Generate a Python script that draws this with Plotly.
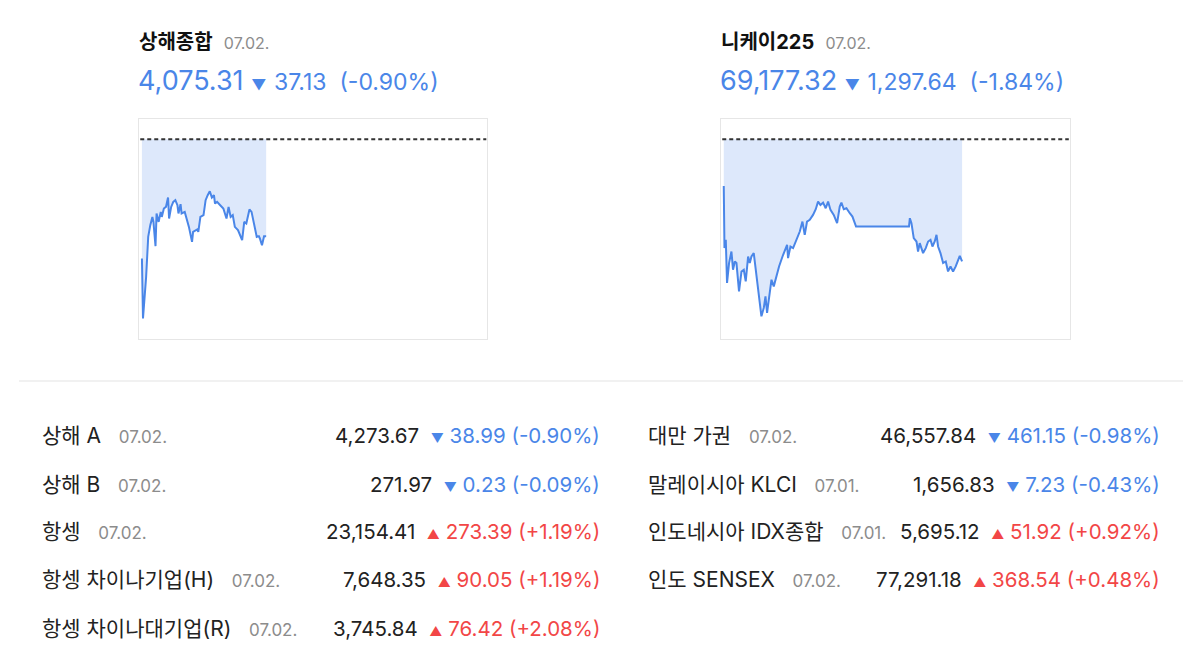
import plotly.graph_objects as go

W, H = 1200, 662
FONT = "Inter, Noto Sans CJK KR, sans-serif"
BLUE = "#4a86e8"
RED = "#f24646"
FILL = "rgba(74,134,232,0.19)"
GRAY = "#8c8c8c"
DARK = "#222222"

# ---------------- data ----------------
# 상해종합 (minutes since 09:30, lunch 11:30-13:00 included, session ends at 330)
sh_prev_close = 4112.44
sh_t = [0, 1, 4, 6, 8, 10, 11, 13, 14, 16, 18, 19, 21, 23, 25, 26, 28, 30, 32, 34,
        35, 37, 38, 41, 45, 48, 49, 53, 54, 56, 59, 61, 63, 65, 67, 69, 70, 72, 75, 78,
        81, 83, 85, 87, 89, 92, 96, 98, 100, 103, 105, 107, 110, 112, 113, 115, 117, 119]
sh_v = [4066.77, 4043.80, 4059.73, 4075.04, 4079.52, 4082.70, 4080.78, 4071.48, 4084.00, 4080.78,
        4084.61, 4082.70, 4085.91, 4086.52, 4090.12, 4082.08, 4086.52, 4088.44, 4089.09, 4087.18,
        4084.00, 4087.56, 4084.00, 4084.61, 4078.87, 4073.13, 4076.95, 4077.87, 4076.95, 4082.70,
        4083.35, 4089.09, 4091.00, 4092.53, 4090.12, 4091.00, 4087.83, 4088.44, 4087.18, 4085.91,
        4082.08, 4086.52, 4082.70, 4083.35, 4078.87, 4077.61, 4073.78, 4080.78, 4080.17, 4085.53,
        4084.61, 4080.17, 4075.04, 4075.31, 4074.43, 4071.86, 4075.31, 4075.31]

# 니케이225 (minutes since 09:00, lunch 11:30-12:30 flat, session ends at 390)
nk_prev_close = 70474.96
nk_t = [0, 0.8, 2.3, 3.7, 6.0, 8.7, 10.5, 12.5, 14.4, 17.3, 20.1, 22.7, 24.9, 27.6, 29.5,
        31.4, 34.0, 37.1, 40.0, 42.7, 45.4, 47.3, 49.1, 51.4, 54.1, 56.7, 59.0, 62.7, 66.6,
        69.2, 71.8, 72.9, 75.6, 78.6, 81.6, 84.2, 86.2, 89.2, 91.8, 94.4, 97.5, 101.2, 104.3,
        106.9, 109.6, 112.6, 115.6, 118.3, 121.0, 124.7, 128.5, 131.5, 133.4, 136.1, 139.1,
        142.9, 145.9, 150, 210, 211, 212.8, 215.4, 218.5, 220.3, 222.2, 226.0, 229.0, 231.7,
        234.4, 236.6, 239.2, 241.2, 243.0, 245.7, 248.7, 251.7, 254.3, 257.1, 260.0, 263.0,
        265.6, 267.6, 270.2]
nk_v = [69977.9, 69319.0, 69406.8, 68948.9, 69160.4, 69283.1, 69089.5, 69177.3, 69160.4, 68860.0,
        69071.6, 69089.5, 68965.8, 69230.2, 69160.4, 69230.2, 69266.2, 69018.7, 68807.2, 68595.6,
        68684.5, 68807.2, 68631.6, 68772.3, 68983.8, 68912.9, 69001.8, 69124.4, 69230.2, 69283.1,
        69353.9, 69213.3, 69336.0, 69319.0, 69388.8, 69459.7, 69494.6, 69600.4, 69459.7, 69600.4,
        69618.3, 69671.2, 69731.5, 69811.9, 69777.0, 69801.3, 69742.1, 69811.9, 69724.1, 69671.2,
        69583.4, 69759.0, 69801.3, 69731.5, 69742.1, 69689.2, 69653.2, 69547.5, 69547.5, 69636.3,
        69583.4, 69424.8, 69388.8, 69283.1, 69371.9, 69266.2, 69319.0, 69388.8, 69406.8, 69336.0,
        69388.8, 69459.7, 69336.0, 69266.2, 69160.4, 69177.3, 69071.6, 69124.4, 69071.6, 69124.4,
        69195.3, 69237.6, 69177.32]

# headline cards
card_names = ["상해종합", "니케이225"]
card_dates = ["07.02.", "07.02."]
card_values = ["4,075.31", "69,177.32"]
card_changes = ["37.13", "1,297.64"]
card_pcts = ["(-0.90%)", "(-1.84%)"]

# table
left_names = ["상해 A", "상해 B", "항셍", "항셍 차이나기업(H)", "항셍 차이나대기업(R)"]
left_dates = ["07.02.", "07.02.", "07.02.", "07.02.", "07.02."]
left_values = ["4,273.67", "271.97", "23,154.41", "7,648.35", "3,745.84"]
left_changes = ["38.99", "0.23", "273.39", "90.05", "76.42"]
left_pcts = ["-0.90%", "-0.09%", "+1.19%", "+1.19%", "+2.08%"]

right_names = ["대만 가권", "말레이시아 KLCI", "인도네시아 IDX종합", "인도 SENSEX"]
right_dates = ["07.02.", "07.01.", "07.01.", "07.02."]
right_values = ["46,557.84", "1,656.83", "5,695.12", "77,291.18"]
right_changes = ["461.15", "7.23", "51.92", "368.54"]
right_pcts = ["-0.98%", "-0.43%", "+0.92%", "+0.48%"]


def px(x):
    return x / W


def py(y):
    return 1 - y / H


fig = go.Figure()

# ---------------- sparklines ----------------
charts = [
    dict(t=sh_t, v=sh_v, prev=sh_prev_close, xa="x", ya="y",
         xdom=[px(138.5), px(487)], xr=[-3.3, 330.6], yr=[4036.1, 4120.4]),
    dict(t=nk_t, v=nk_v, prev=nk_prev_close, xa="x2", ya="y2",
         xdom=[px(720.5), px(1069.5)], xr=[-3.7, 392.0], yr=[68360, 70694]),
]
for i, c in enumerate(charts):
    fig.add_trace(go.Scatter(x=c["t"], y=[c["prev"]] * len(c["t"]), mode="lines",
                             line=dict(width=0, color="rgba(0,0,0,0)"), hoverinfo="skip",
                             xaxis=c["xa"], yaxis=c["ya"], showlegend=False))
    fig.add_trace(go.Scatter(x=c["t"], y=c["v"], mode="lines", fill="tonexty",
                             fillcolor=FILL, line=dict(width=2, color=BLUE),
                             xaxis=c["xa"], yaxis=c["ya"], showlegend=False))
    sfx = "" if i == 0 else "2"
    ax = dict(domain=c["xdom"], range=c["xr"], showgrid=False, zeroline=False,
              showticklabels=False, ticks="", showline=True, mirror=True,
              linecolor="#e6e6e6", linewidth=1.2, fixedrange=True)
    ay = dict(domain=[py(338.5), py(118.5)], range=c["yr"], showgrid=False, zeroline=False,
              showticklabels=False, ticks="", showline=True, mirror=True,
              linecolor="#e6e6e6", linewidth=1.2, fixedrange=True)
    if sfx:
        ax["anchor"] = "y2"
        ay["anchor"] = "x2"
    fig.update_layout(**{"xaxis" + sfx: ax, "yaxis" + sfx: ay})
    fig.add_shape(type="line", xref=("x" + sfx) + " domain", yref="y" + sfx,
                  x0=0.005, x1=0.998, y0=c["prev"], y1=c["prev"],
                  line=dict(color="#333333", width=2, dash="4px,3px"))

# divider
fig.add_shape(type="line", xref="paper", yref="paper", x0=px(19), x1=px(1183),
              y0=py(381), y1=py(381), line=dict(color="#ececec", width=1.5))

ann = []
# headline cards
card_x = [137, 719]
for i in range(2):
    ann.append(dict(x=px(card_x[i]), y=py(42), xanchor="left", yanchor="middle",
                    text=f"<b>{card_names[i]}</b> &nbsp;<span style='font-size:16px;color:{GRAY}'>{card_dates[i]}</span>",
                    font=dict(size=20, color="#111111", family=FONT), showarrow=False,
                    xref="paper", yref="paper"))
    ann.append(dict(x=px(card_x[i] - 1), y=py(80), xanchor="left", yanchor="middle",
                    text=(f"{card_values[i]} <span style='font-size:15px'>▼</span> "
                          f"<span style='font-size:23px'>{card_changes[i]} &nbsp;{card_pcts[i]}</span>"),
                    font=dict(size=27, color=BLUE, family=FONT), showarrow=False,
                    xref="paper", yref="paper"))


def row(name, date, val, chg, pct, xl, xr, y):
    up = pct.startswith("+")
    col = RED if up else BLUE
    tri = "▲" if up else "▼"
    ann.append(dict(x=px(xl), y=py(y), xanchor="left", yanchor="middle",
                    text=f"{name} &nbsp;&nbsp;<span style='font-size:17px;color:{GRAY}'>{date}</span>",
                    font=dict(size=21, color=DARK, family=FONT), showarrow=False,
                    xref="paper", yref="paper"))
    ann.append(dict(x=px(xr), y=py(y), xanchor="right", yanchor="middle",
                    text=(f"{val} &nbsp;<span style='color:{col}'><span style='font-size:13px'>{tri}</span> "
                          f"{chg} ({pct})</span>"),
                    font=dict(size=20.5, color=DARK, family=FONT), showarrow=False,
                    xref="paper", yref="paper"))


left_y = [436, 484, 531, 579, 628]
for i in range(len(left_names)):
    row(left_names[i], left_dates[i], left_values[i], left_changes[i], left_pcts[i], 40, 602, left_y[i])
right_y = [436, 484, 531, 579]
for i in range(len(right_names)):
    row(right_names[i], right_dates[i], right_values[i], right_changes[i], right_pcts[i], 646, 1162, right_y[i])

fig.update_layout(width=W, height=H, margin=dict(l=0, r=0, t=0, b=0),
                  paper_bgcolor="white", plot_bgcolor="white",
                  annotations=ann, showlegend=False, font=dict(family=FONT))

fig.write_html("out.html", config={"displayModeBar": False})
